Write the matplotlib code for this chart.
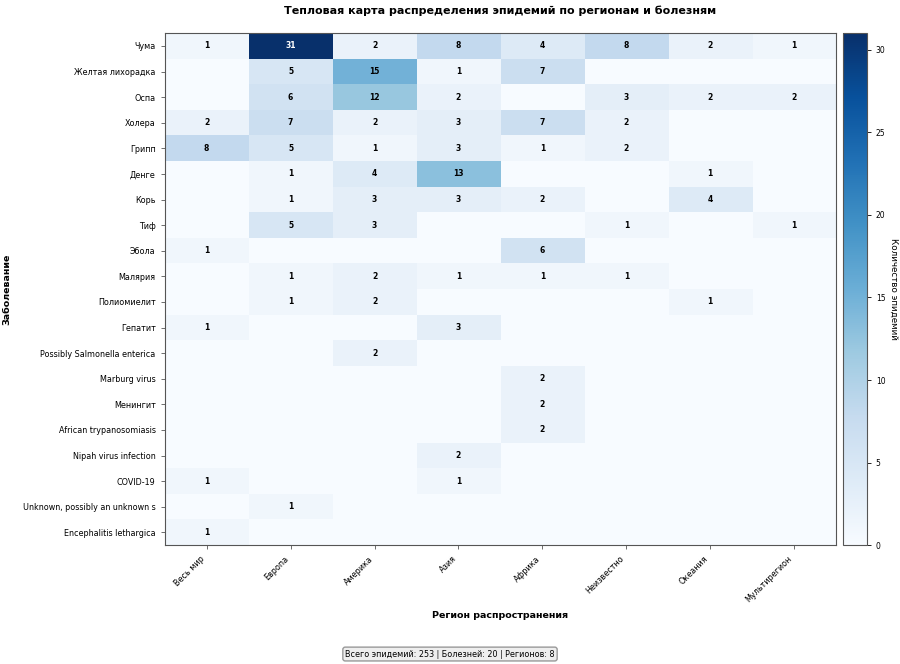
import numpy as np
import matplotlib
matplotlib.use("Agg")
import matplotlib.pyplot as plt

plt.rcParams["font.family"] = ["DejaVu Sans"]

# data
diseases = [
    "Чума", "Желтая лихорадка", "Оспа", "Холера", "Грипп", "Денге", "Корь",
    "Тиф", "Эбола", "Малярия", "Полиомиелит", "Гепатит",
    "Possibly Salmonella enterica", "Marburg virus", "Менингит",
    "African trypanosomiasis", "Nipah virus infection", "COVID-19",
    "Unknown, possibly an unknown s", "Encephalitis lethargica",
]
regions = ["Весь мир", "Европа", "Америка", "Азия", "Африка",
           "Неизвестно", "Океания", "Мультирегион"]

counts = np.array([
    [1, 31, 2, 8, 4, 8, 2, 1],
    [0, 5, 15, 1, 7, 0, 0, 0],
    [0, 6, 12, 2, 0, 3, 2, 2],
    [2, 7, 2, 3, 7, 2, 0, 0],
    [8, 5, 1, 3, 1, 2, 0, 0],
    [0, 1, 4, 13, 0, 0, 1, 0],
    [0, 1, 3, 3, 2, 0, 4, 0],
    [0, 5, 3, 0, 0, 1, 0, 1],
    [1, 0, 0, 0, 6, 0, 0, 0],
    [0, 1, 2, 1, 1, 1, 0, 0],
    [0, 1, 2, 0, 0, 0, 1, 0],
    [1, 0, 0, 3, 0, 0, 0, 0],
    [0, 0, 2, 0, 0, 0, 0, 0],
    [0, 0, 0, 0, 2, 0, 0, 0],
    [0, 0, 0, 0, 2, 0, 0, 0],
    [0, 0, 0, 0, 2, 0, 0, 0],
    [0, 0, 0, 2, 0, 0, 0, 0],
    [1, 0, 0, 1, 0, 0, 0, 0],
    [0, 1, 0, 0, 0, 0, 0, 0],
    [1, 0, 0, 0, 0, 0, 0, 0],
])
total_epidemics = 253

fig = plt.figure(figsize=(9, 6.64), dpi=100)
ax = fig.add_axes([0.183, 0.179, 0.746, 0.771])
cax = fig.add_axes([0.937, 0.179, 0.026, 0.771])

im = ax.imshow(counts, cmap="Blues", aspect="auto", vmin=0, vmax=counts.max())

for i in range(counts.shape[0]):
    for j in range(counts.shape[1]):
        v = counts[i, j]
        if v > 0:
            color = "white" if v > counts.max() * 0.6 else "black"
            ax.text(j, i, str(v), ha="center", va="center",
                    fontsize=5.5, fontweight="bold", color=color)

ax.set_xticks(np.arange(len(regions)))
ax.set_xticklabels(regions, rotation=45, ha="right", fontsize=5.8)
ax.set_yticks(np.arange(len(diseases)))
ax.set_yticklabels(diseases, fontsize=5.8)
ax.tick_params(length=3, width=0.6, color="#555555")
for s in ax.spines.values():
    s.set_color("#555555")

ax.set_xlabel("Регион распространения", fontsize=6.8, fontweight="bold", labelpad=5)
ax.set_ylabel("Заболевание", fontsize=6.8, fontweight="bold", labelpad=8)
ax.set_title("Тепловая карта распределения эпидемий по регионам и болезням",
             fontsize=8, fontweight="bold", pad=14)

cb = fig.colorbar(im, cax=cax)
cb.ax.tick_params(labelsize=5.5, length=3, width=0.6)
cb.set_label("Количество эпидемий", rotation=270, labelpad=9, fontsize=6.3)
cb.outline.set_edgecolor("#555555")

fig.text(0.5, 0.015,
         f"Всего эпидемий: {total_epidemics} | Болезней: {len(diseases)} | Регионов: {len(regions)}",
         ha="center", va="center", fontsize=5.8,
         bbox=dict(boxstyle="round,pad=0.3", facecolor="#eeeeee", edgecolor="#999999"))

fig.savefig("out.png", dpi=100)
